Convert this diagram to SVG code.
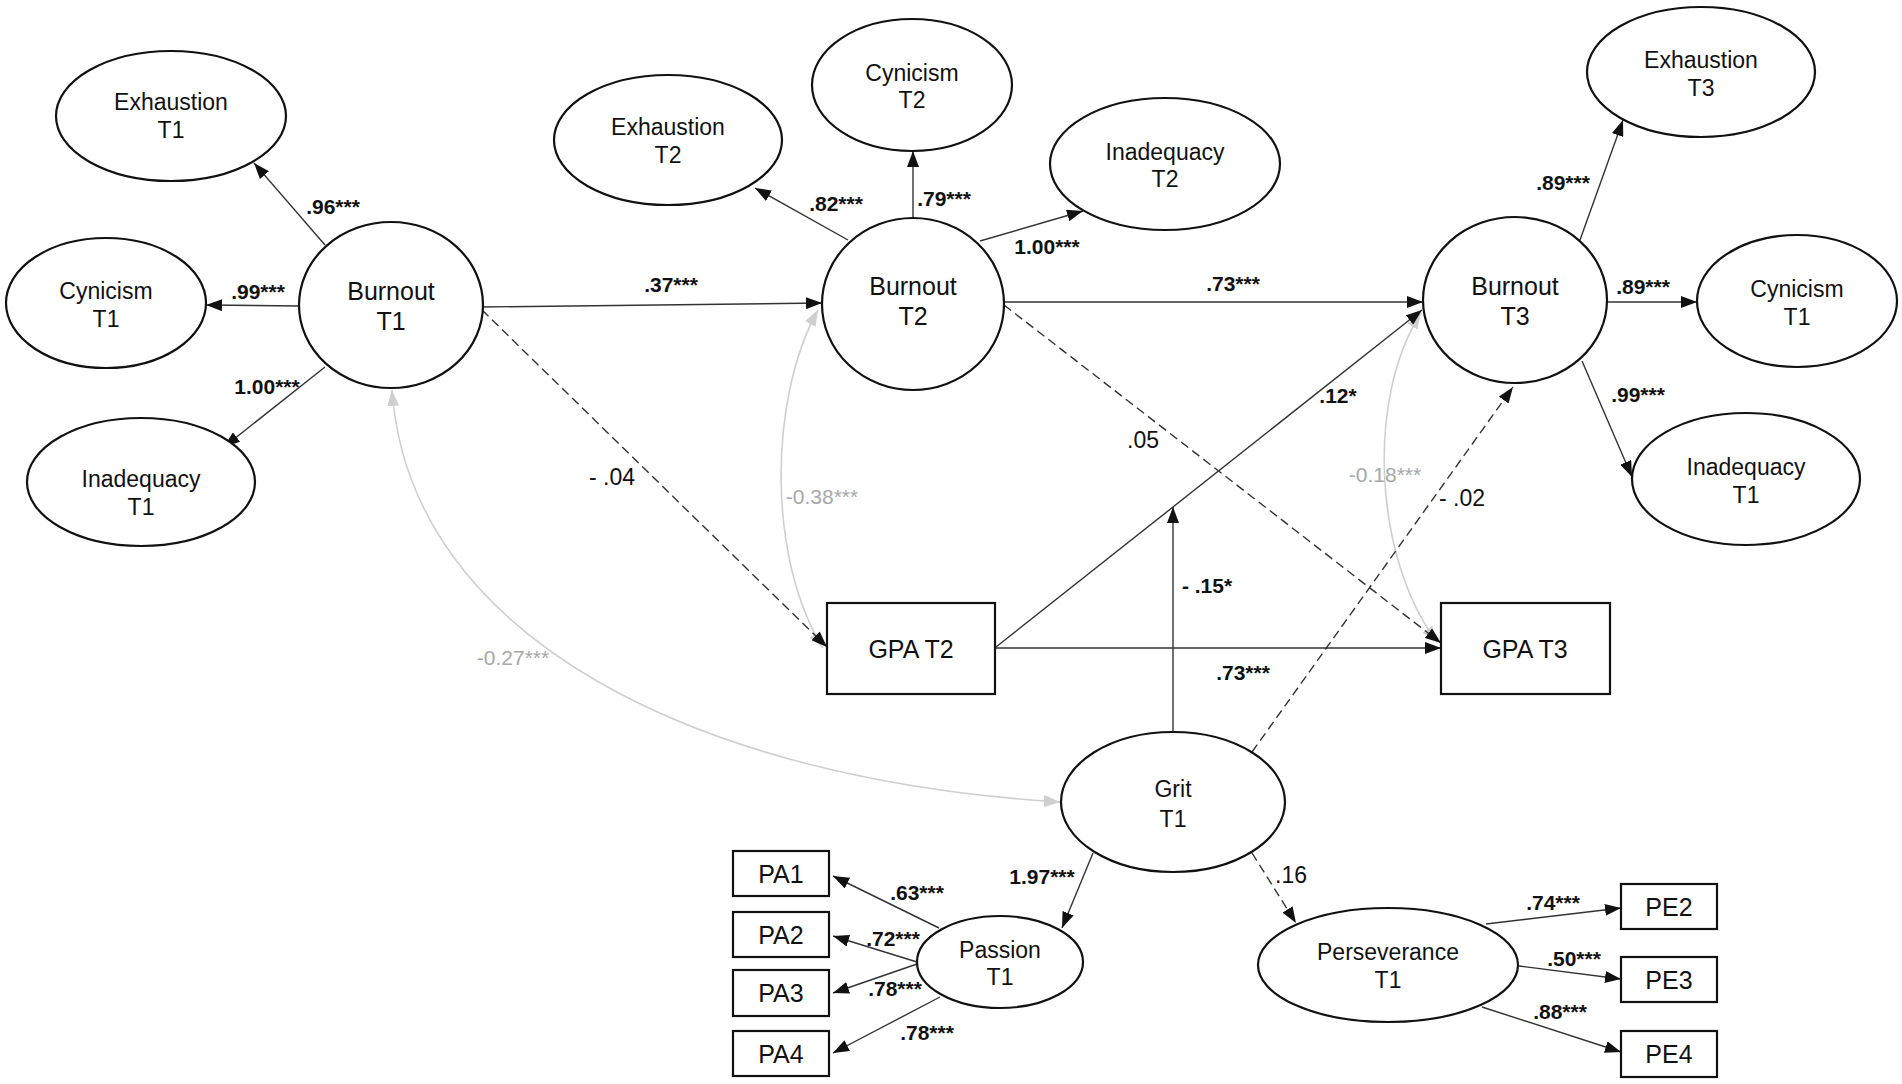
<svg xmlns="http://www.w3.org/2000/svg" width="1902" height="1084" viewBox="0 0 1902 1084">
<style>
.nd{fill:#fff;stroke:#111;stroke-width:2.2}
.t{font-family:"Liberation Sans",Arial,sans-serif;font-size:23px;fill:#111;text-anchor:middle}
.tb{font-size:25px}
.e{fill:none;stroke:#333;stroke-width:1.4}
.d{stroke-dasharray:9 5}
.g{fill:none;stroke:#cfcfcf;stroke-width:1.6}
.lb{font-family:"Liberation Sans",Arial,sans-serif;font-size:21px;font-weight:bold;fill:#111;text-anchor:middle}
.lr{font-family:"Liberation Sans",Arial,sans-serif;font-size:23px;fill:#111;text-anchor:middle}
.lg{font-family:"Liberation Sans",Arial,sans-serif;font-size:21px;fill:#a8a8a8;text-anchor:middle}
</style>
<defs>
<marker id="a" markerUnits="userSpaceOnUse" markerWidth="16" markerHeight="12" refX="16" refY="6" orient="auto"><path d="M0,0 L16,6 L0,12 z" fill="#111"/></marker>
<marker id="ga" markerUnits="userSpaceOnUse" markerWidth="16" markerHeight="12" refX="16" refY="6" orient="auto-start-reverse"><path d="M0,0 L16,6 L0,12 z" fill="#cfcfcf"/></marker>
</defs>
<rect width="1902" height="1084" fill="#fff"/>

<g id="connectors">
<path class="g" d="M392,390 C410,640 700,780 1060,802" marker-start="url(#ga)" marker-end="url(#ga)"/>
<path class="g" d="M823,648 C768,560 768,400 818,310" marker-start="url(#ga)" marker-end="url(#ga)"/>
<path class="g" d="M1437,642 C1375,560 1365,400 1421,313" marker-start="url(#ga)" marker-end="url(#ga)"/>
<line class="e" x1="325" y1="245" x2="254" y2="163" marker-end="url(#a)"/>
<line class="e" x1="299" y1="306" x2="206" y2="305" marker-end="url(#a)"/>
<line class="e" x1="325" y1="367" x2="224" y2="447" marker-end="url(#a)"/>
<line class="e" x1="482" y1="307" x2="822" y2="303" marker-end="url(#a)"/>
<line class="e d" x1="482" y1="310" x2="827" y2="647" marker-end="url(#a)"/>
<line class="e" x1="848" y1="240" x2="755" y2="188" marker-end="url(#a)"/>
<line class="e" x1="913" y1="218" x2="913" y2="151" marker-end="url(#a)"/>
<line class="e" x1="980" y1="241" x2="1083" y2="211" marker-end="url(#a)"/>
<line class="e" x1="1004" y1="302" x2="1423" y2="302" marker-end="url(#a)"/>
<line class="e d" x1="1004" y1="305" x2="1441" y2="643" marker-end="url(#a)"/>
<line class="e" x1="996" y1="647" x2="1422" y2="310" marker-end="url(#a)"/>
<line class="e" x1="996" y1="648" x2="1441" y2="648" marker-end="url(#a)"/>
<line class="e" x1="1173" y1="732" x2="1173" y2="507" marker-end="url(#a)"/>
<line class="e d" x1="1252" y1="752" x2="1513" y2="387" marker-end="url(#a)"/>
<line class="e" x1="1580" y1="240" x2="1623" y2="120" marker-end="url(#a)"/>
<line class="e" x1="1606" y1="302" x2="1697" y2="302" marker-end="url(#a)"/>
<line class="e" x1="1582" y1="361" x2="1632" y2="477" marker-end="url(#a)"/>
<line class="e" x1="1093" y1="853" x2="1062" y2="928" marker-end="url(#a)"/>
<line class="e d" x1="1252" y1="853" x2="1296" y2="923" marker-end="url(#a)"/>
<line class="e" x1="939" y1="928" x2="833" y2="876" marker-end="url(#a)"/>
<line class="e" x1="917" y1="962" x2="833" y2="936" marker-end="url(#a)"/>
<line class="e" x1="917" y1="964" x2="833" y2="993" marker-end="url(#a)"/>
<line class="e" x1="940" y1="997" x2="833" y2="1053" marker-end="url(#a)"/>
<line class="e" x1="1486" y1="924" x2="1621" y2="908" marker-end="url(#a)"/>
<line class="e" x1="1519" y1="966" x2="1621" y2="979" marker-end="url(#a)"/>
<line class="e" x1="1482" y1="1007" x2="1621" y2="1052" marker-end="url(#a)"/>

<text class="lb" x="333" y="214">.96***</text>
<text class="lb" x="258" y="299">.99***</text>
<text class="lb" x="267" y="394">1.00***</text>
<text class="lb" x="671" y="292">.37***</text>
<text class="lb" x="836" y="211">.82***</text>
<text class="lb" x="944" y="206">.79***</text>
<text class="lb" x="1047" y="254">1.00***</text>
<text class="lb" x="1233" y="291">.73***</text>
<text class="lb" x="1563" y="190">.89***</text>
<text class="lb" x="1643" y="294">.89***</text>
<text class="lb" x="1638" y="402">.99***</text>
<text class="lb" x="1338" y="403">.12*</text>
<text class="lr" x="1143" y="448">.05</text>
<text class="lr" x="612" y="485">- .04</text>
<text class="lg" x="822" y="504">-0.38***</text>
<text class="lg" x="1385" y="482">-0.18***</text>
<text class="lr" x="1462" y="506">- .02</text>
<text class="lg" x="513" y="665">-0.27***</text>
<text class="lb" x="1207" y="593">- .15*</text>
<text class="lb" x="1243" y="680">.73***</text>
<text class="lb" x="1042" y="884">1.97***</text>
<text class="lr" x="1291" y="883">.16</text>
<text class="lb" x="917" y="900">.63***</text>
<text class="lb" x="893" y="946">.72***</text>
<text class="lb" x="895" y="996">.78***</text>
<text class="lb" x="927" y="1040">.78***</text>
<text class="lb" x="1553" y="910">.74***</text>
<text class="lb" x="1574" y="966">.50***</text>
<text class="lb" x="1560" y="1019">.88***</text>
</g>

<g id="exhaustion-t1"><ellipse class="nd" cx="171" cy="116" rx="115" ry="65"/><text class="t" x="171" y="110">Exhaustion</text><text class="t" x="171" y="138">T1</text></g>
<g id="cynicism-t1"><ellipse class="nd" cx="106" cy="303" rx="100" ry="65"/><text class="t" x="106" y="299">Cynicism</text><text class="t" x="106" y="327">T1</text></g>
<g id="inadequacy-t1"><ellipse class="nd" cx="141" cy="482" rx="114" ry="64"/><text class="t" x="141" y="487">Inadequacy</text><text class="t" x="141" y="515">T1</text></g>
<g id="burnout-t1"><ellipse class="nd" cx="391" cy="305" rx="92" ry="83"/><text class="t tb" x="391" y="300">Burnout</text><text class="t tb" x="391" y="330">T1</text></g>
<g id="exhaustion-t2"><ellipse class="nd" cx="668" cy="140" rx="114" ry="65"/><text class="t" x="668" y="135">Exhaustion</text><text class="t" x="668" y="163">T2</text></g>
<g id="cynicism-t2"><ellipse class="nd" cx="912" cy="85" rx="100" ry="66"/><text class="t" x="912" y="81">Cynicism</text><text class="t" x="912" y="108">T2</text></g>
<g id="inadequacy-t2"><ellipse class="nd" cx="1165" cy="164" rx="115" ry="66"/><text class="t" x="1165" y="160">Inadequacy</text><text class="t" x="1165" y="187">T2</text></g>
<g id="burnout-t2"><ellipse class="nd" cx="913" cy="304" rx="91" ry="86"/><text class="t tb" x="913" y="295">Burnout</text><text class="t tb" x="913" y="325">T2</text></g>
<g id="exhaustion-t3"><ellipse class="nd" cx="1701" cy="72" rx="114" ry="65"/><text class="t" x="1701" y="68">Exhaustion</text><text class="t" x="1701" y="96">T3</text></g>
<g id="burnout-t3"><ellipse class="nd" cx="1515" cy="300" rx="92" ry="83"/><text class="t tb" x="1515" y="295">Burnout</text><text class="t tb" x="1515" y="325">T3</text></g>
<g id="cynicism-t1-b"><ellipse class="nd" cx="1797" cy="301" rx="100" ry="66"/><text class="t" x="1797" y="297">Cynicism</text><text class="t" x="1797" y="325">T1</text></g>
<g id="inadequacy-t1-b"><ellipse class="nd" cx="1746" cy="479" rx="114" ry="66"/><text class="t" x="1746" y="475">Inadequacy</text><text class="t" x="1746" y="503">T1</text></g>
<g id="gpa-t2"><rect class="nd" x="827" y="603" width="168" height="91"/><text class="t tb" x="911" y="658">GPA T2</text></g>
<g id="gpa-t3"><rect class="nd" x="1441" y="603" width="169" height="91"/><text class="t tb" x="1525" y="658">GPA T3</text></g>
<g id="grit-t1"><ellipse class="nd" cx="1173" cy="802" rx="112" ry="70"/><text class="t" x="1173" y="797">Grit</text><text class="t" x="1173" y="827">T1</text></g>
<g id="passion-t1"><ellipse class="nd" cx="1000" cy="962" rx="83" ry="46"/><text class="t" x="1000" y="958">Passion</text><text class="t" x="1000" y="985">T1</text></g>
<g id="perseverance-t1"><ellipse class="nd" cx="1388" cy="965" rx="130" ry="57"/><text class="t" x="1388" y="960">Perseverance</text><text class="t" x="1388" y="988">T1</text></g>
<g id="pa1"><rect class="nd" x="733" y="851" width="96" height="45"/><text class="t tb" x="781" y="883">PA1</text></g>
<g id="pa2"><rect class="nd" x="733" y="912" width="96" height="45"/><text class="t tb" x="781" y="944">PA2</text></g>
<g id="pa3"><rect class="nd" x="733" y="970" width="96" height="46"/><text class="t tb" x="781" y="1002">PA3</text></g>
<g id="pa4"><rect class="nd" x="733" y="1031" width="96" height="45"/><text class="t tb" x="781" y="1063">PA4</text></g>
<g id="pe2"><rect class="nd" x="1621" y="884" width="96" height="45"/><text class="t tb" x="1669" y="916">PE2</text></g>
<g id="pe3"><rect class="nd" x="1621" y="957" width="96" height="45"/><text class="t tb" x="1669" y="989">PE3</text></g>
<g id="pe4"><rect class="nd" x="1621" y="1031" width="96" height="46"/><text class="t tb" x="1669" y="1063">PE4</text></g>
</svg>
